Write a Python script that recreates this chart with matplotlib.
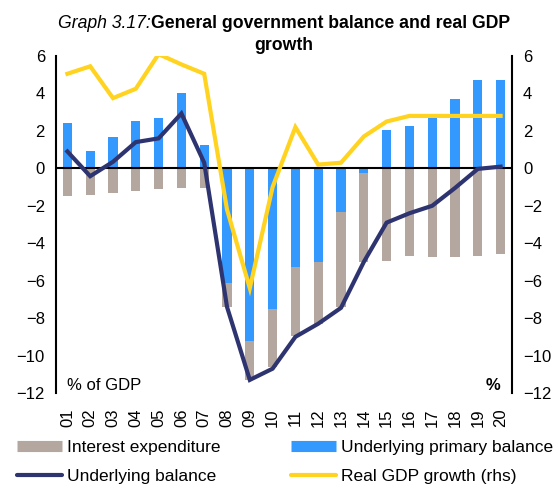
import matplotlib
matplotlib.use('Agg')
import matplotlib.pyplot as plt
from matplotlib.lines import Line2D
import numpy as np

plt.rcParams['font.family'] = ['Liberation Sans', 'DejaVu Sans']

years = ['01', '02', '03', '04', '05', '06', '07', '08', '09', '10',
         '11', '12', '13', '14', '15', '16', '17', '18', '19', '20']
interest = [-1.5, -1.4, -1.3, -1.2, -1.1, -1.05, -1.05, -1.3, -2.1, -3.1,
            -3.7, -3.3, -5.05, -4.75, -4.95, -4.7, -4.75, -4.75, -4.7, -4.6]
primary = [2.4, 0.95, 1.65, 2.55, 2.7, 4.0, 1.25, -6.1, -9.2, -7.5,
           -5.25, -5.0, -2.35, -0.25, 2.05, 2.25, 2.7, 3.7, 4.7, 4.7]
underlying = [0.9, -0.42, 0.35, 1.4, 1.6, 2.93, 0.3, -7.4, -11.3, -10.7,
              -9.0, -8.3, -7.45, -5.0, -2.9, -2.4, -2.0, -1.05, -0.03, 0.09]
gdp = [5.05, 5.45, 3.75, 4.25, 6.1, 5.55, 5.05, -2.2, -6.4, -1.0,
       2.2, 0.2, 0.3, 1.7, 2.5, 2.8, 2.8, 2.8, 2.8, 2.8]

c_int = '#B4A7A0'
c_prim = '#3399FF'
c_und = '#2E3470'
c_gdp = '#FFD320'

fig = plt.figure(figsize=(5.58, 4.84), dpi=100)
ax = fig.add_axes([56/558, 1-393/484, 456/558, 337/484])
x = np.arange(len(years))
prim = np.array(primary)
# stack interest below primary balance when primary balance is negative
bottom_int = np.where(prim < 0, prim, 0)
ax.bar(x, primary, width=0.4, color=c_prim, zorder=2)
ax.bar(x, interest, width=0.4, bottom=bottom_int, color=c_int, zorder=2)
ax.axhline(0, color='black', lw=1.5, zorder=3)
ax.plot(x, underlying, color=c_und, lw=3, zorder=5, solid_joinstyle='miter')

ax2 = ax.twinx()
ax2.plot(x, gdp, color=c_gdp, lw=3, zorder=4, solid_joinstyle='miter')

for a in (ax, ax2):
    a.set_ylim(-12, 6)
    a.set_yticks(range(-12, 7, 2))
    a.set_xlim(-0.5, len(years)-0.5)
    a.spines['top'].set_visible(False)
    a.spines['bottom'].set_visible(False)
    a.spines['left'].set_linewidth(1.5)
    a.spines['right'].set_linewidth(1.5)
    a.tick_params(axis='both', length=0, labelsize=12)
ax.spines['right'].set_visible(False)
ax2.spines['left'].set_visible(False)
ax.set_xticks(x)
ax.set_xticklabels(years, rotation=90)
ax.tick_params(axis='y', pad=8)
ax2.tick_params(axis='y', pad=8)
ax.tick_params(axis='x', pad=11)

ax.text(0.025, -11.85, '% of GDP', transform=ax.get_yaxis_transform(), fontsize=12,
        va='baseline', ha='left')
ax.text(0.975, -11.85, '%', transform=ax.get_yaxis_transform(), fontsize=12,
        va='baseline', ha='right', fontweight='bold')

t1 = fig.text(58/558, 1-24/484, 'Graph 3.17:', fontsize=12.7, style='italic', ha='left', va='center')
fig.canvas.draw()
bb = t1.get_window_extent()
fig.text(bb.x1/558, 1-24/484, 'General government balance and real GDP', fontsize=12.7,
         fontweight='bold', ha='left', va='center')
fig.text(284/558, 1-46/484, 'growth', fontsize=12.7, fontweight='bold', ha='center', va='center')

handles = [Line2D([], [], color=c_int, lw=8, solid_capstyle='butt'),
           Line2D([], [], color=c_und, lw=3, solid_capstyle='round'),
           Line2D([], [], color=c_prim, lw=8, solid_capstyle='butt'),
           Line2D([], [], color=c_gdp, lw=3, solid_capstyle='round')]
labels = ['Interest expenditure', 'Underlying balance',
          'Underlying primary balance', 'Real GDP growth (rhs)']
fig.legend(handles, labels, ncol=2, loc='upper left', bbox_to_anchor=(10/558, 1-433/484),
           frameon=False, fontsize=12.5, handlelength=2.6, handletextpad=0.3,
           columnspacing=4.05, labelspacing=0.8, borderaxespad=0)

fig.savefig('out.png', dpi=100)
